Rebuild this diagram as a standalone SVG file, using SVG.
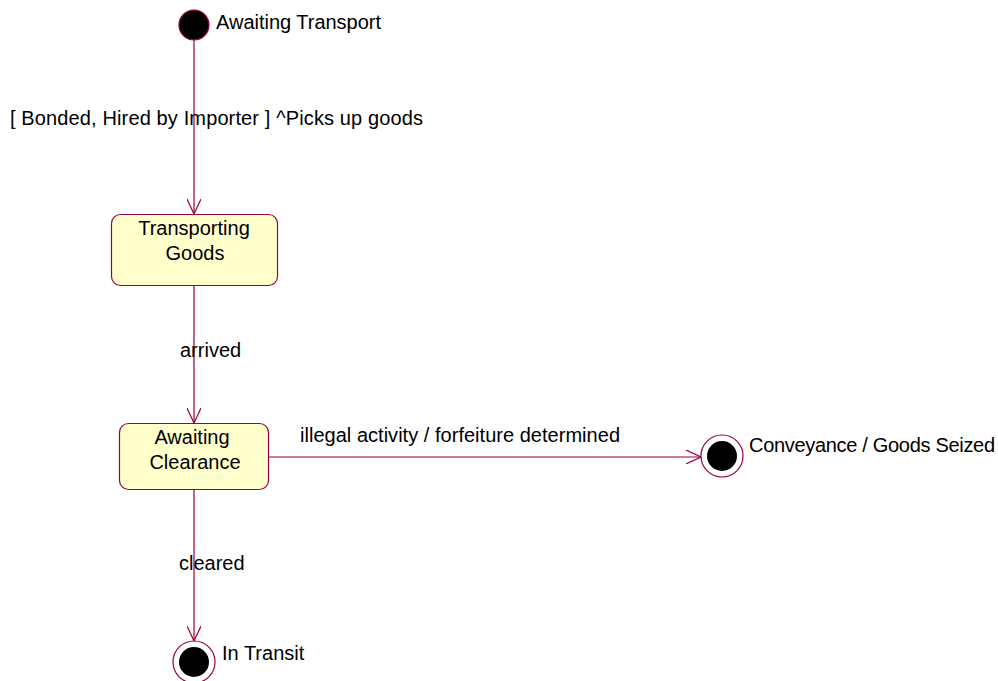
<svg xmlns="http://www.w3.org/2000/svg" width="998" height="681" viewBox="0 0 998 681">
<defs>
<style>
text{font-family:"Liberation Sans",Arial,sans-serif;font-size:20px;fill:#000}
.st{fill:#ffffcc;stroke:#99003d;stroke-width:1.2}
.ln{stroke:#99003d;stroke-width:1.2;fill:none}
.mid{text-anchor:middle}
</style>
<marker id="arr" viewBox="0 0 16 14" refX="15" refY="7" markerWidth="16" markerHeight="14" markerUnits="userSpaceOnUse" orient="auto">
<path d="M0,0 L15,7 L0,14" fill="none" stroke="#99003d" stroke-width="1.2"/>
</marker>
</defs>
<rect width="998" height="681" fill="#fff"/>
<g id="connectors">
<line class="ln" x1="194" y1="40" x2="194" y2="214" marker-end="url(#arr)"/>
<line class="ln" x1="194" y1="285" x2="194" y2="423" marker-end="url(#arr)"/>
<line class="ln" x1="268" y1="457" x2="701" y2="457" marker-end="url(#arr)"/>
<line class="ln" x1="194" y1="489" x2="194" y2="641" marker-end="url(#arr)"/>
<text x="10" y="125" textLength="413" lengthAdjust="spacing">[ Bonded, Hired by Importer ] ^Picks up goods</text>
<text x="180" y="357">arrived</text>
<text x="300" y="442" textLength="320" lengthAdjust="spacing">illegal activity / forfeiture determined</text>
<text x="179" y="570">cleared</text>
</g>
<g id="initial">
<circle cx="194" cy="25" r="15" fill="#000" stroke="#99003d" stroke-width="1.2"/>
<text x="216" y="29" textLength="165" lengthAdjust="spacing">Awaiting Transport</text>
</g>
<g id="transporting">
<rect class="st" x="111.5" y="214.5" width="166" height="71" rx="9"/>
<text class="mid" x="194" y="235">Transporting</text>
<text class="mid" x="195" y="260">Goods</text>
</g>
<g id="awaiting-clearance">
<rect class="st" x="119.5" y="423.5" width="149" height="66" rx="9"/>
<text class="mid" x="192" y="444">Awaiting</text>
<text class="mid" x="195" y="469">Clearance</text>
</g>
<g id="seized">
<circle cx="722" cy="456" r="21" fill="#fff" stroke="#99003d" stroke-width="1.2"/>
<circle cx="722" cy="456" r="15" fill="#000"/>
<text x="749" y="452" textLength="246" lengthAdjust="spacing">Conveyance / Goods Seized</text>
</g>
<g id="in-transit">
<circle cx="194" cy="662" r="21" fill="#fff" stroke="#99003d" stroke-width="1.2"/>
<circle cx="194" cy="662" r="15" fill="#000"/>
<text x="222" y="660">In Transit</text>
</g>
</svg>
